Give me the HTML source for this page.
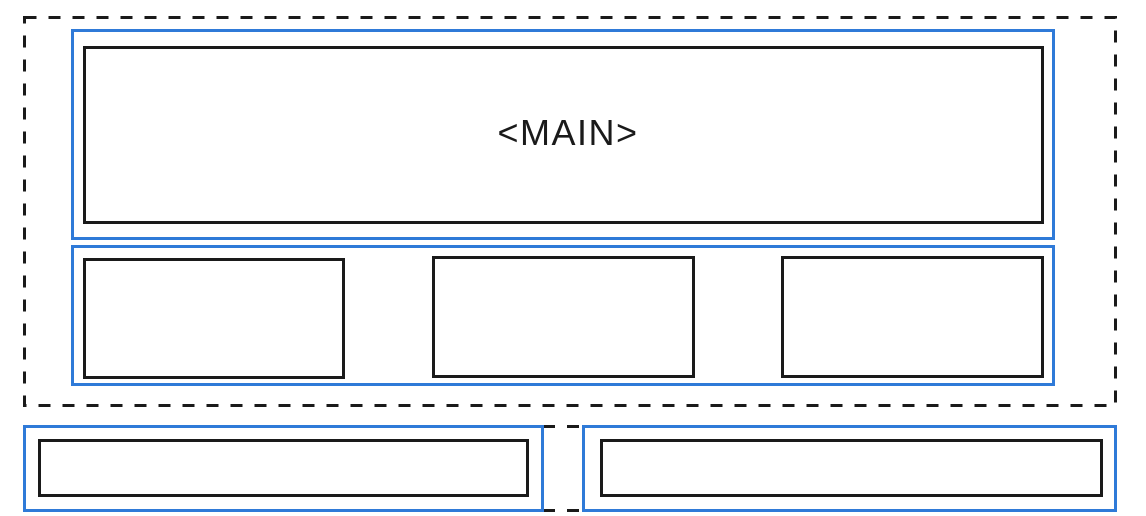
<!DOCTYPE html>
<html><head><meta charset="utf-8"><style>
html,body{margin:0;padding:0;background:#fff;width:1146px;height:516px;overflow:hidden}
</style></head><body>
<svg width="1146" height="516" viewBox="0 0 1146 516" xmlns="http://www.w3.org/2000/svg">
<g fill="none" stroke-width="3">
<rect x="24.5" y="17.5" width="1091" height="388" stroke="#1a1a1a" stroke-dasharray="12,12"/>
<rect x="72.5" y="30.5" width="981" height="208" stroke="#2f7ad8"/>
<rect x="84.5" y="47.5" width="958" height="175" stroke="#1a1a1a"/>
<rect x="72.5" y="246.5" width="981" height="138" stroke="#2f7ad8"/>
<rect x="84.5" y="259.5" width="259" height="118" stroke="#1a1a1a"/>
<rect x="433.5" y="257.5" width="260" height="119" stroke="#1a1a1a"/>
<rect x="782.5" y="257.5" width="260" height="119" stroke="#1a1a1a"/>
<line x1="543" y1="426.5" x2="583" y2="426.5" stroke="#1a1a1a" stroke-dasharray="12,12"/>
<line x1="543" y1="510.5" x2="583" y2="510.5" stroke="#1a1a1a" stroke-dasharray="12,12"/>
<rect x="24.5" y="426.5" width="518" height="84" stroke="#2f7ad8"/>
<rect x="39.5" y="440.5" width="488" height="55" stroke="#1a1a1a"/>
<rect x="583.5" y="426.5" width="532" height="84" stroke="#2f7ad8"/>
<rect x="601.5" y="440.5" width="500" height="55" stroke="#1a1a1a"/>
</g>
<text x="568" y="145" text-anchor="middle" font-family="Liberation Sans, sans-serif" font-size="36" letter-spacing="1.5" fill="#1a1a1a">&lt;MAIN&gt;</text>
</svg>
</body></html>
